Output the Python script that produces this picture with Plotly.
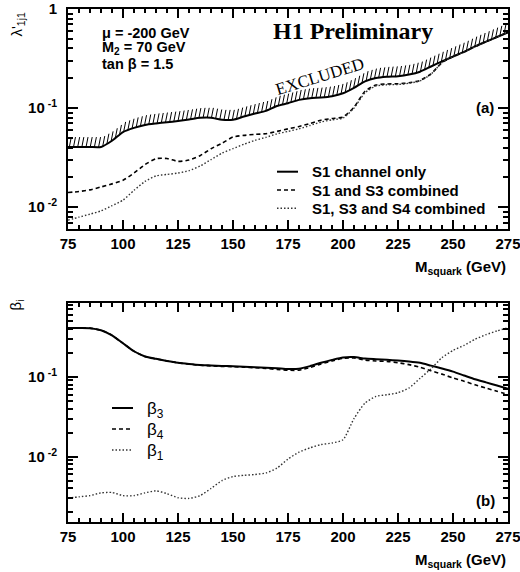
import numpy as np
import plotly.graph_objects as go

# ---------------- data ----------------
mass = list(range(75, 280, 5))  # M_squark (GeV)

s1_only = [0.0405, 0.0405, 0.0405, 0.0405, 0.0468, 0.0573, 0.0631, 0.0676, 0.0700, 0.0719,
           0.0740, 0.0767, 0.0798, 0.0800, 0.0762, 0.0762, 0.0822, 0.0881, 0.0938, 0.105,
           0.112, 0.121, 0.126, 0.128, 0.132, 0.141, 0.160, 0.186, 0.201, 0.207,
           0.210, 0.218, 0.233, 0.263, 0.296, 0.331, 0.369, 0.419, 0.468, 0.522, 0.582]

s1_s3 = [0.01406, 0.01439, 0.01496, 0.0160, 0.0172, 0.0187, 0.0221, 0.0269, 0.0309, 0.0310,
         0.0290, 0.0299, 0.0331, 0.0389, 0.0442, 0.0511, 0.0531, 0.0543, 0.0552, 0.0582,
         0.0617, 0.0652, 0.0700, 0.0755, 0.0785, 0.0813, 0.102, 0.148, 0.171, 0.175,
         0.176, 0.180, 0.190, 0.221, 0.288, 0.331, 0.369, 0.419, 0.468, 0.522, 0.582]

s1_s3_s4 = [0.00740, 0.00794, 0.00851, 0.00918, 0.01035, 0.01178, 0.0148, 0.0182, 0.0207, 0.0214,
            0.0221, 0.0234, 0.0260, 0.0302, 0.0351, 0.0390, 0.0432, 0.0473, 0.0507, 0.0550,
            0.0582, 0.0617, 0.0668, 0.0724, 0.0762, 0.0794, 0.100, 0.143, 0.167, 0.172,
            0.173, 0.178, 0.188, 0.220, 0.288, 0.331, 0.369, 0.419, 0.468, 0.522, 0.582]

beta3 = [0.409, 0.409, 0.407, 0.383, 0.331, 0.263, 0.209, 0.180, 0.168, 0.158,
         0.150, 0.145, 0.141, 0.139, 0.137, 0.136, 0.134, 0.132, 0.130, 0.128,
         0.125, 0.126, 0.136, 0.150, 0.163, 0.175, 0.177, 0.169, 0.166, 0.163,
         0.160, 0.156, 0.150, 0.138, 0.127, 0.116, 0.104, 0.0933, 0.0851, 0.0776, 0.0708]

beta4 = [0.409, 0.409, 0.407, 0.383, 0.331, 0.263, 0.209, 0.180, 0.168, 0.158,
         0.150, 0.144, 0.140, 0.137, 0.135, 0.134, 0.132, 0.130, 0.127, 0.124,
         0.121, 0.121, 0.131, 0.145, 0.158, 0.170, 0.172, 0.162, 0.158, 0.156,
         0.150, 0.142, 0.132, 0.119, 0.108, 0.0966, 0.0881, 0.0794, 0.0721, 0.0658, 0.0601]

beta1 = [0.00301, 0.00313, 0.00324, 0.00351, 0.00355, 0.00324, 0.00324, 0.00351, 0.00372, 0.00343,
         0.00305, 0.00299, 0.00324, 0.00398, 0.00501, 0.00562, 0.00582, 0.00596, 0.00624, 0.00716,
         0.00933, 0.01135, 0.01288, 0.01413, 0.01479, 0.01622, 0.0300, 0.0468, 0.0569, 0.0596,
         0.0631, 0.0724, 0.0955, 0.126, 0.174, 0.214, 0.248, 0.295, 0.337, 0.376, 0.412]

x_ticks = [75, 100, 125, 150, 175, 200, 225, 250, 275]
y_ticks_top = [1, 0.1, 0.01]
y_ticktext_top = ["1", "10<sup> -1</sup>", "10<sup> -2</sup>"]
y_ticks_bot = [0.1, 0.01]
y_ticktext_bot = ["10<sup> -1</sup>", "10<sup> -2</sup>"]

legend_top = ["S1 channel only", "S1 and S3 combined", "S1, S3 and S4 combined"]
legend_bot = ["β<sub>3</sub>", "β<sub>4</sub>", "β<sub>1</sub>"]
params = ["μ = -200 GeV", "M<sub>2</sub> = 70 GeV", "tan β = 1.5"]

# ---------------- layout helpers ----------------
W, H = 520, 572
def px(x):
    return x / W
def py(y):
    return 1 - y / H

SANS = "Liberation Sans"
SERIF = "Liberation Serif"
BOLD = dict(family=SANS, size=15, color="black", weight="bold")

styles = [dict(color="black", width=2, dash="solid"),
          dict(color="black", width=1.6, dash="4px,3px"),
          dict(color="#333333", width=1.4, dash="1.5px,2px")]

fig = go.Figure()

# top panel curves
for name, vals, st in zip(legend_top, [s1_only, s1_s3, s1_s3_s4], styles):
    fig.add_trace(go.Scatter(x=mass, y=vals, mode="lines", name=name, showlegend=False,
                             line=dict(shape="spline", smoothing=0.6, **st),
                             xaxis="x", yaxis="y"))

# hatching above the excluded-limit curve (derived from s1_only)
lm = np.log10(np.array(s1_only))
hx = np.arange(75.6, 275.0, 1.9)
hy = 10 ** np.interp(hx, mass, lm)
seg_x, seg_y = [], []
for xv, yv in zip(hx, hy):
    seg_x += [xv, xv + 0.9, None]
    seg_y += [yv, yv * 10 ** 0.1, None]
fig.add_trace(go.Scatter(x=seg_x, y=seg_y, mode="lines", showlegend=False, hoverinfo="skip",
                         line=dict(color="black", width=1.0), xaxis="x", yaxis="y"))

# bottom panel curves
for name, vals, st in zip(legend_bot, [beta3, beta4, beta1], styles):
    fig.add_trace(go.Scatter(x=mass, y=vals, mode="lines", name=name, showlegend=False,
                             line=dict(shape="spline", smoothing=0.6, **st),
                             xaxis="x2", yaxis="y2"))

def minor_log(lo, hi):
    out = []
    for e in range(-4, 1):
        for k in range(2, 10):
            v = k * 10.0 ** e
            if 10 ** lo <= v <= 10 ** hi:
                out.append(v)
    return out

XDOM = [px(68), px(508)]
def xaxis(anchor):
    return dict(domain=XDOM, anchor=anchor, range=[75, 275], tickmode="array", tickvals=x_ticks,
                ticks="inside", ticklen=9, tickwidth=1.5, tickcolor="black",
                showline=True, linewidth=2, linecolor="black", mirror="allticks",
                showgrid=False, zeroline=False, tickfont=BOLD, automargin=False,
                ticklabeloverflow="allow",
                minor=dict(tickmode="linear", tick0=75, dtick=5, ticks="inside",
                           ticklen=4, tickwidth=1.5, tickcolor="black", showgrid=False))

def yaxis(anchor, dom, rng, tv, tt):
    return dict(domain=dom, anchor=anchor, type="log", range=rng, tickmode="array",
                tickvals=tv, ticktext=tt, ticks="inside", ticklen=10, tickwidth=1.5,
                tickcolor="black", showline=True, linewidth=2, linecolor="black",
                mirror="allticks", showgrid=False, zeroline=False, tickfont=BOLD,
                ticklabelstandoff=6, automargin=False, ticklabeloverflow="allow",
                minor=dict(tickmode="array", tickvals=minor_log(*rng), ticks="inside",
                           ticklen=5, tickwidth=1.5, tickcolor="black", showgrid=False))

TOP_RANGE = [-2.22, 0]
BOT_RANGE = [-2.82, -0.075]

fig.update_layout(
    template="none",
    width=W, height=H, margin=dict(l=0, r=0, t=0, b=0, autoexpand=False),
    paper_bgcolor="white", plot_bgcolor="white", showlegend=False,
    xaxis=xaxis("y"),
    yaxis=yaxis("x", [py(229), py(9)], TOP_RANGE, y_ticks_top, y_ticktext_top),
    xaxis2=xaxis("y2"),
    yaxis2=yaxis("x2", [py(522), py(303)], BOT_RANGE, y_ticks_bot, y_ticktext_bot),
)

ann = []
def text(x, y, s, font, xanchor="left", yanchor="middle", angle=0):
    ann.append(dict(x=px(x), y=py(y), xref="paper", yref="paper", text=s, showarrow=False,
                    xanchor=xanchor, yanchor=yanchor, textangle=angle, font=font))

# parameter block
for s, yy in zip(params, [33, 48, 64]):
    text(100, yy, s, dict(family=SANS, size=14.5, color="black", weight="bold"))
# H1 Preliminary
text(353, 31, "H1 Preliminary", dict(family=SERIF, size=24, color="black", weight="bold"),
     xanchor="center")
# EXCLUDED
text(320, 76, "EXCLUDED", dict(family=SERIF, size=17, color="black"), xanchor="center",
     angle=-17)
# panel tags
text(485, 108, "(a)", dict(family=SANS, size=15, color="black", weight="bold"), xanchor="center")
text(485, 500, "(b)", dict(family=SANS, size=15, color="black", weight="bold"), xanchor="center")
# axis titles
for yy in [267, 560]:
    text(508, yy, "M<sub>squark</sub> (GeV)", BOLD, xanchor="right")
text(17, 10, "λ'<sub>1j1</sub>", dict(family=SANS, size=15, color="black"),
     xanchor="center", yanchor="top", angle=-90)
text(16, 298, "β<sub>i</sub>", dict(family=SANS, size=15, color="black"),
     xanchor="center", yanchor="top", angle=-90)

# legends (ROOT-style boxes without frame)
shapes = []
for lab, st, yy in zip(legend_top, styles, [171.7, 190, 208.3]):
    shapes.append(dict(type="line", xref="paper", yref="paper", x0=px(277), x1=px(298),
                       y0=py(yy), y1=py(yy), line=st))
    text(310, yy, lab, dict(family=SANS, size=15, color="black", weight="bold"))
for lab, st, yy in zip(legend_bot, styles, [408, 429, 450]):
    shapes.append(dict(type="line", xref="paper", yref="paper", x0=px(112), x1=px(133),
                       y0=py(yy), y1=py(yy), line=st))
    text(145, yy + 2, lab, dict(family=SANS, size=17, color="black"))

fig.update_layout(annotations=ann, shapes=shapes)
fig.write_html("out.html", config={"displayModeBar": False},
               post_script="document.body.style.margin='0';document.body.style.overflow='hidden';")
